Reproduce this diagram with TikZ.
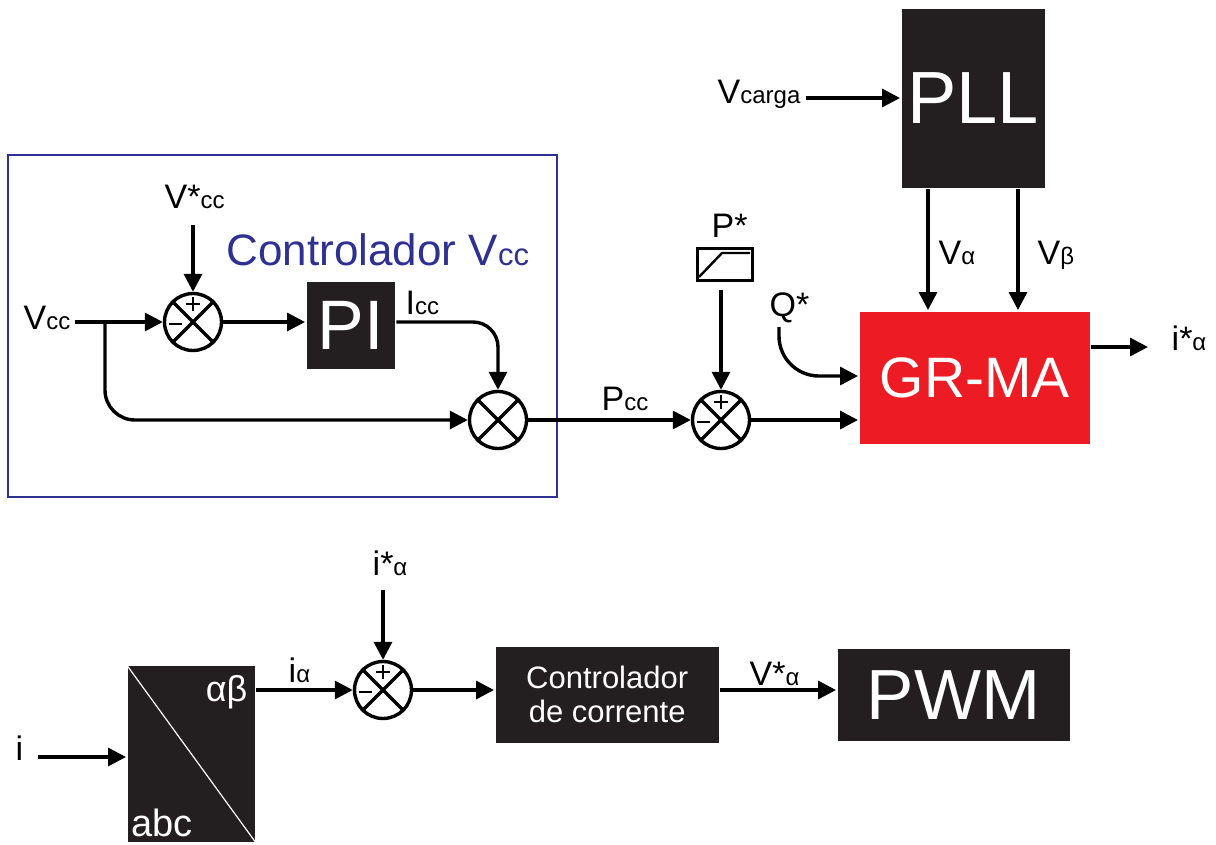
\documentclass[tikz,border=0pt]{standalone}
\usepackage{fontspec}
\setmainfont{Liberation Sans}
\usetikzlibrary{arrows.meta}
\definecolor{blk}{RGB}{35,31,32}
\definecolor{grred}{RGB}{237,28,36}
\definecolor{cblue}{RGB}{46,49,146}
\newcommand\sz[1]{\fontsize{#1}{#1}\selectfont}
\newcommand\sbs[1]{{\sz{24}#1}}
\newcommand\mulj[2]{%
  \node[sumnode] (#1) at (#2) {};
  \draw[line width=3.3pt] (#1.45) -- (#1.225) (#1.135) -- (#1.315);}
\newcommand\sumj[2]{%
  \mulj{#1}{#2}
  \draw[line width=2.6pt] ([xshift=-7pt,yshift=18pt]#1.center) -- ++(14pt,0pt)
     ([yshift=25pt]#1.center) -- ++(0pt,-14pt)
     ([xshift=-24pt,yshift=-2pt]#1.center) -- ++(13pt,0pt);}
\begin{document}
\begin{tikzpicture}[x=1pt,y=-1pt,line width=3.4pt,
  >={Triangle[length=18pt,width=18pt]},
  box/.style={fill=blk,draw=none,text=white,inner sep=0pt,anchor=north west},
  sumnode/.style={circle,draw,minimum size=57pt,inner sep=0pt,line width=3.4pt},
  lbl/.style={inner sep=0pt,anchor=base west,font=\sz{34}}]
\useasboundingbox (0,0) rectangle (1216,844);

% blue frame
\draw[cblue,line width=1.5pt] (8,155) rectangle (557,497);
\node[lbl,text=cblue,font=\sz{44}] (ctl) at (225,265) {Controlador V{\sz{31}cc}};

% blocks
\node[box,minimum width=88pt,minimum height=87pt,font=\sz{70}] (pi) at (305,280) {PI};
\node[box,minimum width=143pt,minimum height=179pt,font=\sz{74}] (pll) at (900,7) {PLL};
\node[box,fill=grred,minimum width=230pt,minimum height=132pt,font=\sz{57}] (grma) at (858,310) {GR-MA};
\node[box,minimum width=127pt,minimum height=176pt] (abc) at (126,664) {};
\draw[white,line width=1.2pt] (abc.north west) -- (abc.south east);
\node[inner sep=0pt,anchor=base east,text=white,font=\sz{36}] (ab) at (249,701) {αβ};
\node[inner sep=0pt,anchor=base west,text=white,font=\sz{38}] (abct) at (130,836) {abc};
\node[box,minimum width=223pt,minimum height=96pt,font=\sz{31},align=center] (cc) at (494,645) {Controlador\\[3pt]de corrente};
\node[box,minimum width=232pt,minimum height=92pt,font=\sz{71}] (pwm) at (836,647) {PWM};

% saturation block
\node[draw,line width=3pt,minimum width=55pt,minimum height=32pt,inner sep=0pt,anchor=north west] (sat) at (696,247) {};
\draw[line width=2.4pt] (699,277) -- (722,253) -- (750,253);

% summing junctions / multiplier
\sumj{s1}{193,322}
\mulj{s2}{498,420}
\sumj{s3}{721,420}
\sumj{s4}{383,690}

% labels
\node[lbl] (lvcc) at (22,329) {V\sbs{cc}};
\node[lbl] (lvs) at (163,208) {V*\sbs{cc}};
\node[lbl] (licc) at (404,314) {I\sbs{cc}};
\node[lbl] (lpcc) at (600,410) {P\sbs{cc}};
\node[lbl] (lps) at (710,237) {P*};
\node[lbl] (lqs) at (768,316) {Q*};
\node[lbl] (lvc) at (716,103) {V\sbs{carga}};
\node[lbl] (lva) at (937,264) {V\sbs{α}};
\node[lbl] (lvb) at (1036,264) {V\sbs{β}};
\node[lbl] (lio) at (1170,350) {i*\sbs{α}};
\node[lbl] (lis) at (371,575) {i*\sbs{α}};
\node[lbl] (lia) at (287,682) {i\sbs{α}};
\node[lbl] (lvsa) at (748,685) {V*\sbs{α}};
\node[lbl] (li) at (14,760) {i};

% coordinates
\coordinate (vin) at (75,322);
\coordinate (br) at (105,322);
\coordinate (vcsrc) at (193,225);
\coordinate (qsrc) at (779,327);
\coordinate (qy) at (0,376);
\coordinate (vcin) at (806,98);
\coordinate (va) at (928,0);
\coordinate (vb) at (1018,0);
\coordinate (iout) at (1148,347);
\coordinate (iin) at (38,757);
\coordinate (issrc) at (383,590);
\coordinate (satout) at (721,290);

% connectors
\draw[->] (vin) -- (s1.west);
\draw[->,rounded corners=30pt] (br) |- (s2.west);
\draw[->] (vcsrc) -- (s1.north);
\draw[->] (s1.east) -- (pi.west |- s1.east);
\draw[->,rounded corners=25pt] (pi.east |- s1.east) -| (s2.north);
\draw[->] (s2.east) -- (s3.west);
\draw[->] (satout) -- (s3.north);
\draw[->] (s3.east) -- (grma.west |- s3.east);
\draw[->,rounded corners=40pt] (qsrc) |- (grma.west |- qy);
\draw[->] (vcin) -- (pll.west |- vcin);
\draw[->] (pll.south -| va) -- (grma.north -| va);
\draw[->] (pll.south -| vb) -- (grma.north -| vb);
\draw[->] (grma.east |- iout) -- (iout);
\draw[->] (iin) -- (abc.west |- iin);
\draw[->] (abc.east |- s4.west) -- (s4.west);
\draw[->] (issrc) -- (s4.north);
\draw[->] (s4.east) -- (cc.west |- s4.east);
\draw[->] (cc.east |- s4.east) -- (pwm.west |- s4.east);
\end{tikzpicture}
\end{document}
